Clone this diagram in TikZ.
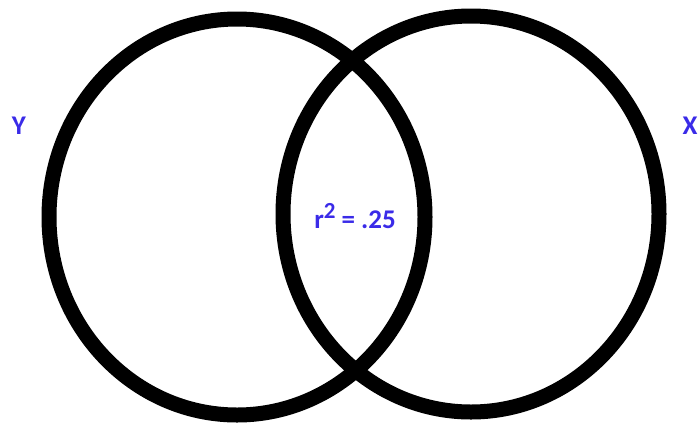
\documentclass[tikz,border=0pt]{standalone}
\usepackage{fontspec}
\setmainfont{Carlito}
\usepackage{tikz}
\usetikzlibrary{shapes.geometric}
\definecolor{labelblue}{HTML}{3A2BE8}

\begin{document}
\begin{tikzpicture}[x=1pt,y=-1pt,font=\bfseries\fontsize{27}{30}\selectfont]
\tikzset{ring/.style={draw=black,line width=15pt,ellipse,inner sep=0pt,minimum width=376pt,minimum height=396pt}, lbl/.style={text=labelblue,inner sep=0pt}}
\useasboundingbox (0,0) rectangle (698,424);
\node[ring] (Yc) at (237,217) {};
\node[ring] (Xc) at (471,214) {};
\node[lbl] (Yl) at (19,126) {Y};
\node[lbl] (Xl) at (690,126) {X};
\node[lbl] (r2) at (355,216) {r\raisebox{0.4em}{\fontsize{23}{24}\selectfont 2} = .25};
\end{tikzpicture}
\end{document}
